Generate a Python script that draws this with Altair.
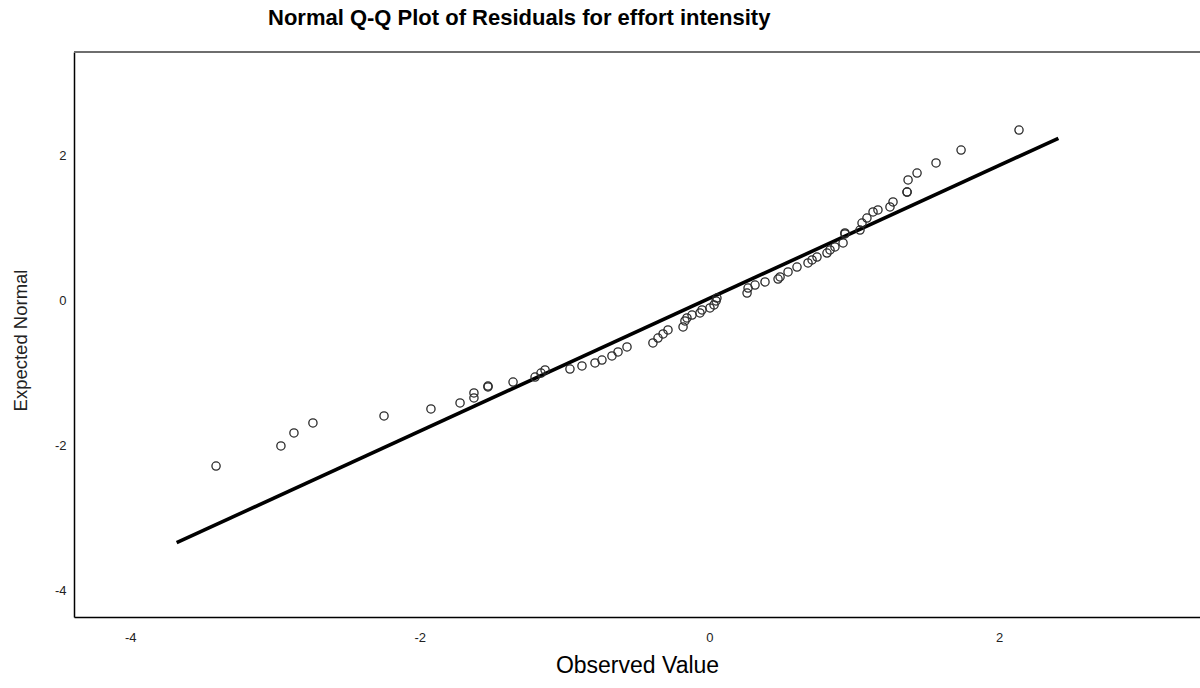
import altair as alt
import pandas as pd

# Observed residual values (x) and expected normal quantiles (y)
obs = [-3.407, -2.959, -2.869, -2.738, -2.247, -1.923, -1.722, -1.626, -1.626, -1.529,
       -1.529, -1.356, -1.204, -1.163, -1.135, -0.963, -0.880, -0.790, -0.742, -0.673,
       -0.631, -0.569, -0.390, -0.355, -0.320, -0.286, -0.182, -0.169, -0.155, -0.120,
       -0.065, -0.051, 0.004, 0.032, 0.046, 0.052, 0.260, 0.267, 0.315, 0.384,
       0.474, 0.488, 0.543, 0.605, 0.681, 0.709, 0.743, 0.812, 0.833, 0.867,
       0.923, 0.936, 0.936, 1.040, 1.054, 1.088, 1.130, 1.164, 1.247, 1.268,
       1.365, 1.365, 1.372, 1.434, 1.565, 1.738, 2.138]
expected = [-2.280, -2.004, -1.825, -1.687, -1.591, -1.494, -1.412, -1.343, -1.274, -1.191,
            -1.178, -1.123, -1.054, -0.999, -0.957, -0.944, -0.902, -0.861, -0.820, -0.764,
            -0.709, -0.640, -0.585, -0.517, -0.461, -0.406, -0.365, -0.282, -0.241, -0.200,
            -0.172, -0.131, -0.103, -0.062, -0.007, 0.034, 0.103, 0.172, 0.213, 0.255,
            0.296, 0.324, 0.393, 0.461, 0.517, 0.558, 0.599, 0.654, 0.696, 0.737,
            0.792, 0.916, 0.930, 0.971, 1.067, 1.136, 1.219, 1.247, 1.288, 1.357,
            1.494, 1.494, 1.660, 1.756, 1.894, 2.073, 2.348]

# Reference line endpoints
line_x = [-3.679, 2.410]
line_y = [-3.336, 2.234]

tick_vals = [-4, -2, 0, 2]
x_domain = [-4.388, 3.388]
y_domain = [-4.360, 3.423]

PLOT_W = 1126
PLOT_H = 565

pts = pd.DataFrame({"obs": obs, "expected": expected})
ln = pd.DataFrame({"obs": line_x, "expected": line_y})

label_expr = "'' + datum.value"

x_enc = alt.X(
    "obs:Q",
    scale=alt.Scale(domain=x_domain, nice=False, zero=False),
    axis=alt.Axis(
        values=tick_vals, title="Observed Value", grid=False, ticks=False,
        labelExpr=label_expr,
        labelPadding=14, labelFontSize=13, labelFont="Liberation Sans", labelColor="#222222",
        domainColor="#000000", domainWidth=1.5,
        titleFont="Liberation Sans Narrow, Liberation Sans", titleFontSize=23,
        titleFontWeight="normal", titleColor="#000000",
        titleX=563, titleY=48, titleAlign="center", titleBaseline="middle",
    ),
)
y_enc = alt.Y(
    "expected:Q",
    scale=alt.Scale(domain=y_domain, nice=False, zero=False),
    axis=alt.Axis(
        values=tick_vals, title="Expected Normal", grid=False, ticks=False,
        labelExpr=label_expr,
        labelPadding=8, labelFontSize=13, labelFont="Liberation Sans", labelColor="#222222",
        domainColor="#000000", domainWidth=1.5,
        titleFont="Liberation Sans Narrow, Liberation Sans", titleFontSize=18.5,
        titleFontWeight="normal", titleColor="#222222",
        titleX=-54, titleY=288, titleAngle=270, titleAlign="center", titleBaseline="middle",
    ),
)

# top frame edge (the reference frame has no right edge inside the picture)
top_edge = alt.Chart(pd.DataFrame({"a": [0]})).mark_rule(
    color="#6e6e6e", strokeWidth=2
).encode(x=alt.value(0), x2=alt.value(PLOT_W), y=alt.value(0))

line = alt.Chart(ln).mark_line(color="#000000", strokeWidth=3.6).encode(x=x_enc, y=y_enc)
points = alt.Chart(pts).mark_point(
    shape="circle", filled=False, size=68, stroke="#2a2a2a", strokeWidth=1.3, opacity=1
).encode(x=x_enc, y=y_enc)

chart = (
    alt.layer(top_edge, line, points)
    .properties(
        width=PLOT_W,
        height=PLOT_H,
        title=alt.TitleParams(
            "Normal Q-Q Plot of Residuals for effort intensity",
            anchor="start", frame="group", dx=194, offset=21,
            font="Liberation Sans", fontSize=22, fontWeight="bold", color="#000000",
        ),
        autosize=alt.AutoSizeParams(type="none"),
        padding={"left": 74, "top": 52, "right": 0, "bottom": 71},
        background="#ffffff",
    )
    .configure_view(stroke="transparent")
)

chart.save("out.html", embed_options={"renderer": "svg", "actions": False})
